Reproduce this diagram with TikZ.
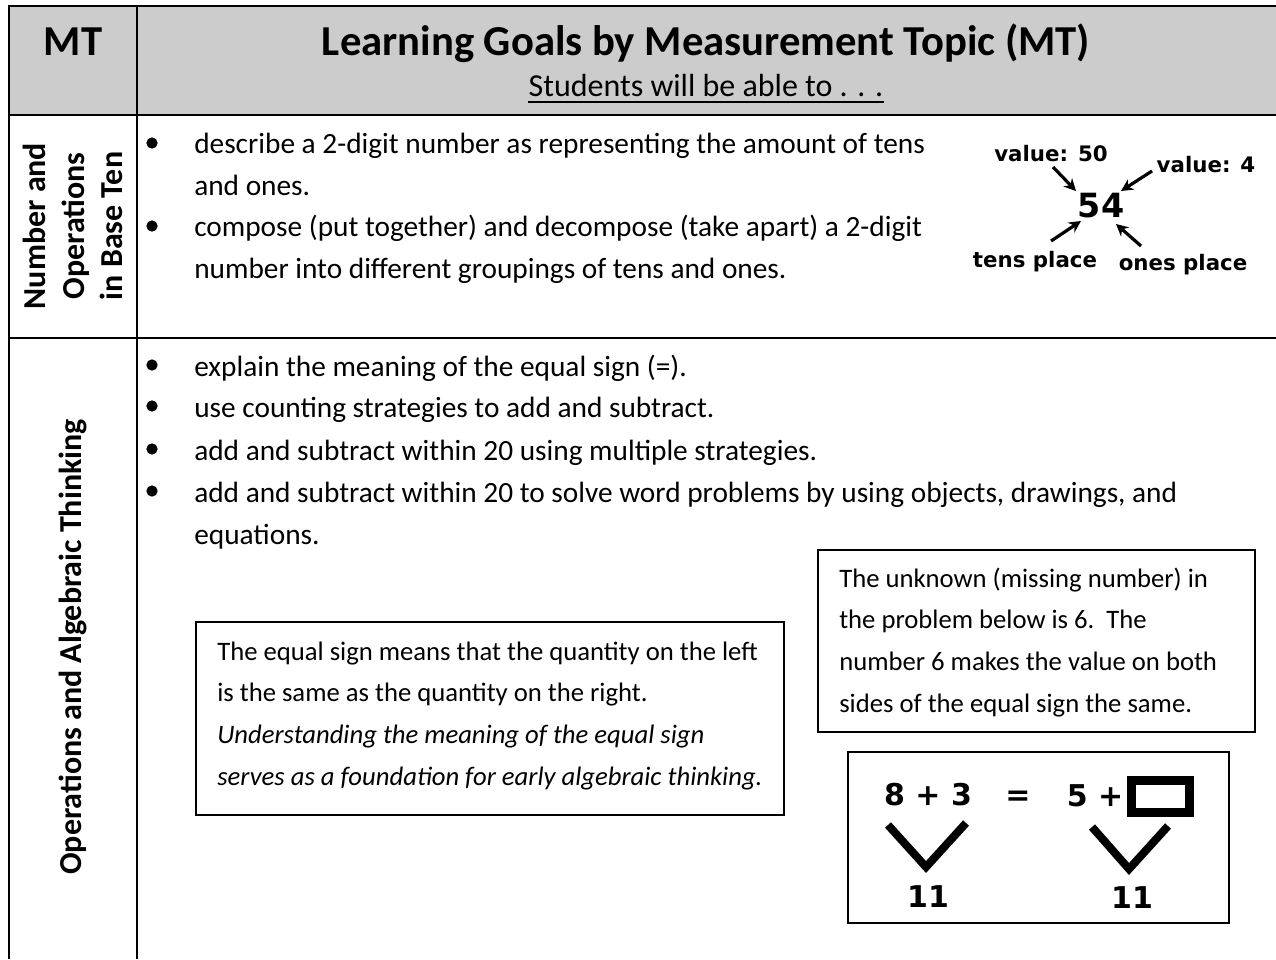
\documentclass[tikz,border=0pt]{standalone}
\usepackage{fontspec}
\setmainfont{Carlito}
\newfontfamily\vfont{DejaVu Sans}
\usetikzlibrary{arrows.meta}
\definecolor{hdr}{HTML}{CCCCCC}
\tikzset{
  tl/.style={inner sep=0pt, anchor=base west, font=\fontsize{22}{26}\selectfont},
  bx/.style={inner sep=0pt, anchor=base west, font=\fontsize{20}{24}\selectfont},
  bxi/.style={bx, font=\fontsize{20}{24}\selectfont\itshape},
  eqt/.style={inner sep=0pt, anchor=base, font=\vfont\bfseries\fontsize{22.5}{26}\selectfont},
  dg/.style={inner sep=0pt, anchor=base, font=\vfont\bfseries\fontsize{16}{19}\selectfont},
  gridline/.style={line width=1.9pt},
  frame/.style={line width=1.1pt},
  bul/.style={circle, fill=black, inner sep=0pt, minimum size=8.5pt},
  arr/.style={line width=2.4pt, -{Stealth[length=9pt,width=9pt]}},
  vee/.style={line width=6pt, line join=miter},
  lab/.style={rotate=90, align=center, inner sep=0pt, font=\bfseries\fontsize{24}{28.9}\selectfont}
}
\begin{document}
\begin{tikzpicture}[x=0.75pt,y=-0.75pt]
\useasboundingbox (0,0) rectangle (1276,959);
% header
\fill[hdr] (9,6) rectangle (1276,115);
\draw[gridline] (9,6) -- (1276,6);
\draw[gridline] (9,115) -- (1276,115);
\draw[gridline] (9,338) -- (1276,338);
\draw[gridline] (9,5) -- (9,959);
\draw[gridline] (137,5) -- (137,959);
\node[inner sep=0pt, anchor=base, font=\bfseries\fontsize{32}{38}\selectfont] (mt) at (73,56) {MT};
\node[inner sep=0pt, anchor=base, font=\bfseries\fontsize{32}{38}\selectfont] (title) at (706,56) {Learning Goals by Measurement Topic (MT)};
\node[inner sep=0pt, anchor=base, font=\fontsize{24}{28}\selectfont] (sub) at (706,97) {Students will be able to . . .};
\draw[line width=1.5pt] ([yshift=-4pt]sub.base west) -- ([yshift=-4pt]sub.base east);
% left labels
\node[lab] (lab1) at (73,226) {Number and\\Operations\\in Base Ten};
\node[lab] (lab2) at (73,647) {Operations and Algebraic Thinking};
% row 1
\node[bul] (b1) at (152,143) {};
\node[bul] (b2) at (152,226) {};
\node[tl] (r1a) at (194,154) {describe a 2-digit number as representing the amount of tens};
\node[tl] (r1b) at (194,196) {and ones.};
\node[tl] (r1c) at (194,237) {compose (put together) and decompose (take apart) a 2-digit};
\node[tl] (r1d) at (194,278) {number into different groupings of tens and ones.};
% 54 diagram
\node[dg] (v50) at (1051,162) {value: 50};
\node[dg] (v4) at (1206,173) {value: 4};
\node[eqt, font=\vfont\bfseries\fontsize{25}{30}\selectfont] (n54) at (1101,218) {54};
\node[dg] (tens) at (1035,267) {tens place};
\node[dg] (ones) at (1183,270) {ones place};
\coordinate (a1s) at (1053,167); \coordinate (a1e) at (1076,191);
\coordinate (a2s) at (1152,171); \coordinate (a2e) at (1121,191);
\coordinate (a3s) at (1051,241); \coordinate (a3e) at (1081,221);
\coordinate (a4s) at (1141,246); \coordinate (a4e) at (1116,224);
\draw[arr] (a1s) -- (a1e);
\draw[arr] (a2s) -- (a2e);
\draw[arr] (a3s) -- (a3e);
\draw[arr] (a4s) -- (a4e);
% row 2
\node[bul] (b3) at (152,365) {};
\node[bul] (b4) at (152,406) {};
\node[bul] (b5) at (152,449) {};
\node[bul] (b6) at (152,491) {};
\node[tl] (r2a) at (194,376) {explain the meaning of the equal sign (=).};
\node[tl] (r2b) at (194,417) {use counting strategies to add and subtract.};
\node[tl] (r2c) at (194,460) {add and subtract within 20 using multiple strategies.};
\node[tl] (r2d) at (194,502) {add and subtract within 20 to solve word problems by using objects, drawings, and};
\node[tl] (r2e) at (194,544) {equations.};
% box 1
\draw[frame] (196,622) rectangle (784,815);
\node[bx] (x1a) at (217,660) {The equal sign means that the quantity on the left};
\node[bx] (x1b) at (217,701) {is the same as the quantity on the right.};
\node[bxi] (x1c) at (217,743) {Understanding the meaning of the equal sign};
\node[bxi] (x1d) at (217,785) {serves as a foundation for early algebraic thinking.};
% box 2
\draw[frame] (818,550) rectangle (1255,732);
\node[bx] (x2a) at (839,587) {The unknown (missing number) in};
\node[bx] (x2b) at (839,628) {the problem below is 6.\ \ The};
\node[bx] (x2c) at (839,670) {number 6 makes the value on both};
\node[bx] (x2d) at (839,712) {sides of the equal sign the same.};
% box 3
\draw[frame] (848,752) rectangle (1229,923);
\node[eqt] (lhs) at (928,805) {8 + 3};
\node[eqt] (eqs) at (1018,805) {=};
\node[eqt] (rhs) at (1095,806) {5 +};
\draw[line width=6.75pt] (1131.5,780.5) rectangle (1189.5,812.5);
\coordinate (v1a) at (888,825); \coordinate (v1b) at (926,867); \coordinate (v1c) at (966,823);
\coordinate (v2a) at (1092,827); \coordinate (v2b) at (1129,869); \coordinate (v2c) at (1168,826);
\draw[vee] (v1a) -- (v1b) -- (v1c);
\draw[vee] (v2a) -- (v2b) -- (v2c);
\node[eqt] (s1) at (928,907) {11};
\node[eqt] (s2) at (1132,908) {11};
\end{tikzpicture}
\end{document}
